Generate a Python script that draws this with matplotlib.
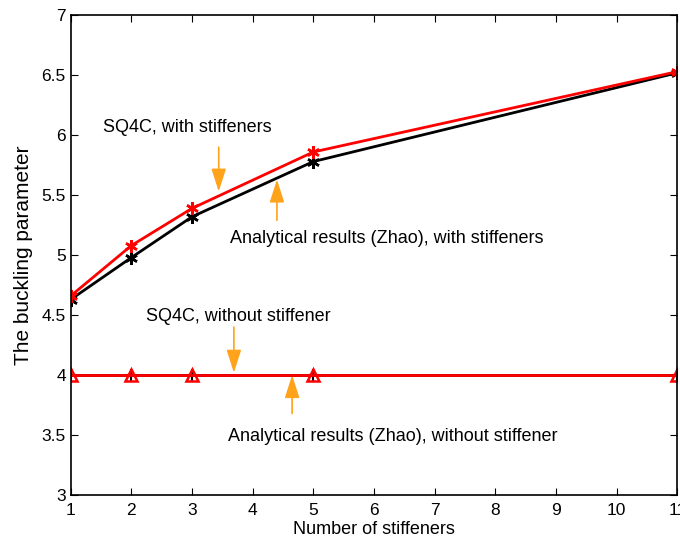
import matplotlib.pyplot as plt

plt.rcParams['font.family'] = ['Liberation Sans', 'DejaVu Sans']

n_stiff = [1, 2, 3, 5, 11]
sq4c_with = [4.66, 5.08, 5.39, 5.86, 6.53]
zhao_with = [4.63, 4.98, 5.32, 5.78, 6.52]
sq4c_without = [4.0, 4.0, 4.0, 4.0, 4.0]
zhao_without = [4.0, 4.0, 4.0, 4.0, 4.0]

ORANGE = '#FFA31A'
asterisk = (6, 2, 0)

fig = plt.figure(figsize=(6.8, 5.44), dpi=100)
ax = fig.add_axes([0.104, 0.09, 0.892, 0.882])

ax.plot(n_stiff, zhao_with, color='black', lw=2, marker=asterisk, ms=9, mew=1.8)
ax.plot(n_stiff, sq4c_with, color='red', lw=2, marker=asterisk, ms=9, mew=1.8)
ax.plot(n_stiff, zhao_without, color='black', lw=2, marker='+', ms=8, mew=1.5)
ax.plot(n_stiff, sq4c_without, color='red', lw=2, marker='^', ms=8, mew=1.8,
        mfc='none', mec='red')

ax.set_xlim(1, 11)
ax.set_ylim(3, 7)
ax.set_xticks(range(1, 12))
ax.set_yticks([3, 3.5, 4, 4.5, 5, 5.5, 6, 6.5, 7])
ax.set_yticklabels(['3', '3.5', '4', '4.5', '5', '5.5', '6', '6.5', '7'])
ax.tick_params(direction='in', length=5, labelsize=12.5, top=True, right=True,
               labeltop=False, labelright=False)
ax.tick_params(axis='x', pad=6)
for s in ax.spines.values():
    s.set_linewidth(1.2)
ax.set_xlabel('Number of stiffeners', fontsize=13, labelpad=2)
ax.set_ylabel('The buckling parameter', fontsize=15, labelpad=6)

arrow = dict(arrowstyle='-|>,head_width=0.45,head_length=1.4', color=ORANGE, lw=1.2,
             shrinkA=0, shrinkB=0)
ax.annotate('', xy=(3.44, 5.53), xytext=(3.44, 5.90), arrowprops=arrow)
ax.annotate('', xy=(4.40, 5.63), xytext=(4.40, 5.29), arrowprops=arrow)
ax.annotate('', xy=(3.69, 4.02), xytext=(3.69, 4.40), arrowprops=arrow)
ax.annotate('', xy=(4.65, 4.00), xytext=(4.65, 3.68), arrowprops=arrow)

ax.text(1.53, 6.06, 'SQ4C, with stiffeners', fontsize=13, va='center')
ax.text(3.62, 5.14, 'Analytical results (Zhao), with stiffeners', fontsize=13, va='center')
ax.text(2.24, 4.49, 'SQ4C, without stiffener', fontsize=13, va='center')
ax.text(3.59, 3.49, 'Analytical results (Zhao), without stiffener', fontsize=13, va='center')

fig.savefig('out.png')
